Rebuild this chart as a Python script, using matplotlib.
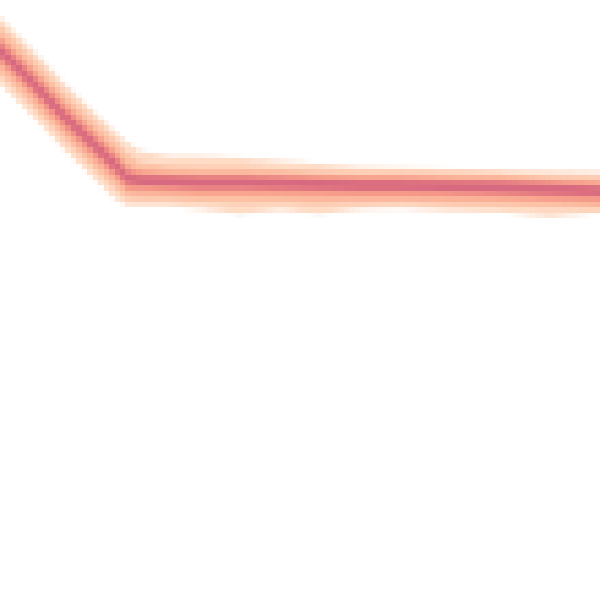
import numpy as np
import matplotlib
matplotlib.use("Agg")
import matplotlib.pyplot as plt

# 曲线中心线 (像素坐标, y 向下)
x = [0, 30, 60, 90, 115, 128, 140, 170, 200, 240, 280, 320, 360, 400, 450, 500, 550, 600]
center = [50, 80, 112, 141, 165, 178, 180, 181, 182, 182, 183, 184, 185, 185, 186, 187, 189, 191]

# 各密度层的上下扩展
outer_up = [33, 33, 33, 33, 33, 35, 29, 25, 26, 24, 22, 20, 18, 17, 17, 17, 18, 19]
outer_dn = [33, 33, 33, 33, 34, 28, 26, 25, 27, 32, 27, 30, 24, 23, 25, 25, 28, 21]
pale_up = [24, 24, 24, 24, 24, 24, 18, 15, 15, 15, 14, 13, 13, 13, 13, 13, 13, 14]
pale_dn = [24, 24, 24, 24, 24, 21, 20, 19, 20, 22, 20, 21, 19, 18, 19, 19, 19, 18]
salmon_up = [15, 15, 15, 15, 15, 13, 10, 9, 9, 9, 9, 9, 9, 9, 9, 9, 9, 9]
salmon_dn = [15, 15, 15, 15, 15, 14, 13, 13, 14, 14, 14, 14, 13, 13, 13, 13, 13, 13]
mid_up = [9, 9, 9, 9, 9, 8, 6, 6, 6, 6, 6, 6, 6, 6, 6, 6, 6, 6]
mid_dn = [9, 9, 9, 9, 9, 9, 8, 8, 8, 8, 8, 8, 8, 8, 8, 8, 8, 8]
core_up = [5, 5, 5, 5, 5, 4, 4, 4, 4, 4, 4, 4, 4, 4, 4, 4, 4, 4]
core_dn = [5, 5, 5, 5, 5, 5, 5, 5, 5, 5, 5, 5, 5, 5, 5, 5, 5, 5]

xa = np.array(x)
c = np.array(center)

# 第1步: 先在低分辨率画布上画 (110x110 像素)
small = plt.figure(figsize=(1.1, 1.1), dpi=100)
ax = small.add_axes([0, 0, 1, 1])
layers = [(outer_up, outer_dn, "#fedcc6"),
          (pale_up, pale_dn, "#fcc2a6"),
          (salmon_up, salmon_dn, "#f9a48e"),
          (mid_up, mid_dn, "#f08a84"),
          (core_up, core_dn, "#d76a80")]
for up, dn, col in layers:
    ax.fill_between(xa, c - np.array(up), c + np.array(dn), color=col, lw=0)
ax.set_xlim(0, 600)
ax.set_ylim(600, 0)
ax.axis("off")
small.canvas.draw()
img = np.asarray(small.canvas.buffer_rgba()).copy()
plt.close(small)

# 第2步: 放大成 600x600 (最近邻, 方块效果)
fig = plt.figure(figsize=(6, 6), dpi=100)
ax2 = fig.add_axes([0, 0, 1, 1])
ax2.imshow(img, interpolation="nearest", aspect="auto")
ax2.axis("off")
fig.savefig("out.png", dpi=100)
